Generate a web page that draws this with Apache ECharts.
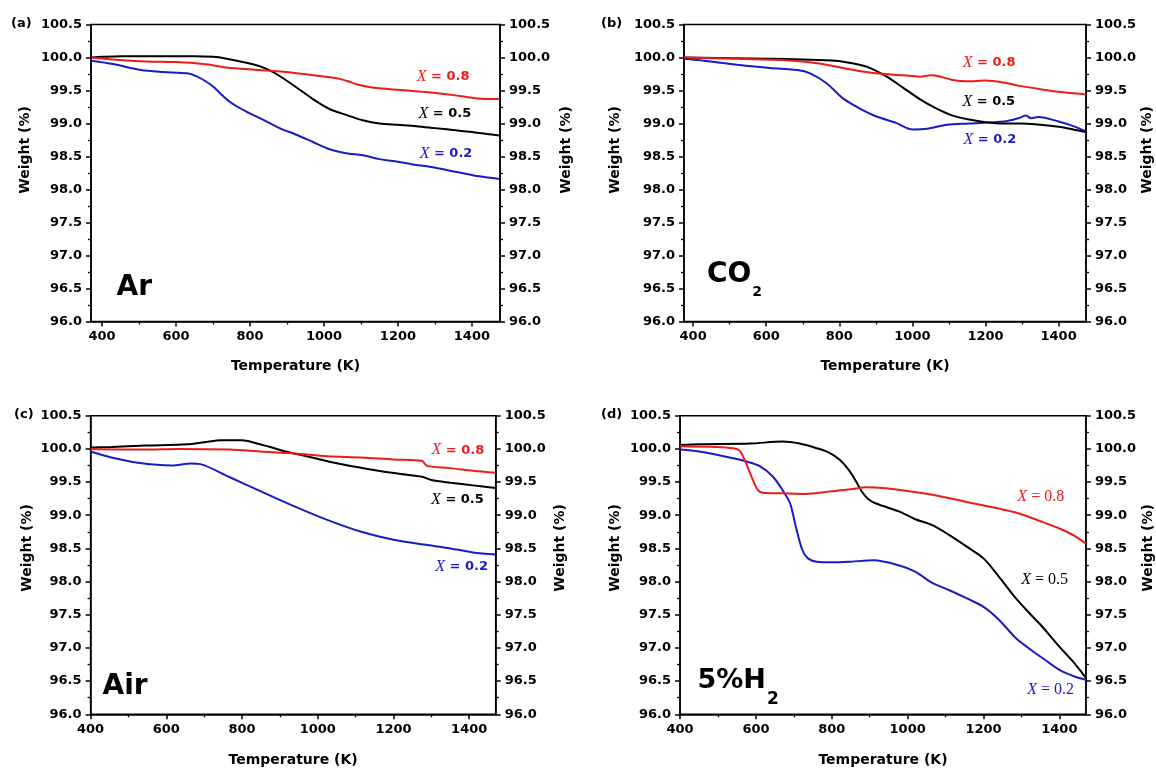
<!DOCTYPE html>
<html>
<head>
<meta charset="utf-8">
<title>Weight loss of x = 0.2, 0.5, 0.8 in Ar, CO2, air and 5% H2</title>
<script src="https://cdn.jsdelivr.net/npm/echarts@6/dist/echarts.min.js"></script>
<style>
  html, body { margin: 0; padding: 0; background: #fff; }
  #chart { width: 1156px; height: 771px; }
</style>
</head>
<body>
<div id="chart"></div>
<script>
// ---- data: [temperature (K), weight (%)] ----
const compositions = ['0.2', '0.5', '0.8'];
const xTickValues = [400, 600, 800, 1000, 1200, 1400];
const xMinorTickValues = [500, 700, 900, 1100, 1300];

// (a) Ar
const arX02 = [[372,99.95],[430,99.9],[505,99.81],[565,99.78],[630,99.76],[657,99.71],[680,99.64],[700,99.56],[745,99.33],[790,99.18],[835,99.06],[880,98.93],[925,98.83],[970,98.72],[1015,98.61],[1060,98.55],[1105,98.52],[1150,98.46],[1200,98.42],[1240,98.38],[1290,98.34],[1355,98.27],[1420,98.2],[1475,98.16]];
const arX05 = [[372,100.0],[400,100.01],[450,100.02],[550,100.02],[650,100.02],[700,100.01],[730,99.99],[790,99.92],[830,99.86],[855,99.8],[880,99.72],[925,99.55],[970,99.37],[1015,99.22],[1060,99.13],[1105,99.05],[1150,99.0],[1200,98.98],[1250,98.96],[1300,98.93],[1350,98.9],[1400,98.87],[1440,98.84],[1475,98.82]];
const arX08 = [[372,100.0],[430,99.97],[520,99.94],[600,99.93],[675,99.9],[735,99.85],[825,99.81],[915,99.77],[1005,99.71],[1040,99.68],[1065,99.64],[1090,99.59],[1125,99.55],[1200,99.51],[1290,99.47],[1350,99.43],[1400,99.39],[1440,99.37],[1475,99.37]];
const arLabelAt = [[1330,98.54],[1327,99.15],[1322,99.71]];
const arGasAt = [487, 96.51];

// (b) CO2
const co2X02 = [[375,99.98],[430,99.95],[520,99.89],[610,99.84],[685,99.81],[720,99.76],[765,99.61],[810,99.38],[855,99.23],[900,99.11],[955,99.01],[1000,98.91],[1040,98.92],[1095,98.98],[1155,99.0],[1250,99.03],[1290,99.08],[1310,99.12],[1325,99.08],[1345,99.1],[1400,99.03],[1440,98.96],[1475,98.88]];
const co2X05 = [[375,100.0],[610,99.98],[700,99.97],[790,99.95],[855,99.89],[885,99.84],[930,99.71],[975,99.54],[1020,99.37],[1065,99.23],[1110,99.12],[1155,99.06],[1200,99.02],[1250,99.0],[1295,99.0],[1350,98.98],[1400,98.95],[1440,98.91],[1475,98.87]];
const co2X08 = [[375,100.0],[520,99.98],[655,99.96],[745,99.91],[840,99.81],[900,99.76],[975,99.73],[1020,99.71],[1050,99.73],[1070,99.72],[1110,99.66],[1150,99.64],[1200,99.65],[1250,99.62],[1295,99.57],[1350,99.52],[1400,99.48],[1475,99.44]];
const co2LabelAt = [[1212,98.76],[1209,99.33],[1210,99.92]];
const co2GasAt = [513, 96.71];

// (c) Air
const airX02 = [[400,99.96],[455,99.87],[525,99.79],[615,99.75],[665,99.78],[690,99.77],[765,99.58],[850,99.36],[940,99.13],[1025,98.93],[1115,98.75],[1200,98.63],[1290,98.55],[1350,98.5],[1410,98.44],[1470,98.41]];
const airX05 = [[400,100.02],[455,100.03],[545,100.05],[655,100.07],[700,100.1],[745,100.13],[800,100.13],[835,100.09],[880,100.02],[915,99.96],[985,99.87],[1070,99.76],[1160,99.67],[1220,99.62],[1275,99.58],[1300,99.53],[1350,99.49],[1410,99.45],[1470,99.41]];
const airX08 = [[400,100.0],[545,99.99],[630,100.0],[765,99.99],[850,99.96],[940,99.93],[1025,99.89],[1115,99.87],[1200,99.84],[1275,99.82],[1282,99.78],[1290,99.74],[1350,99.71],[1410,99.67],[1470,99.64]];
const airLabelAt = [[1380,98.23],[1369,99.24],[1370,99.98]];
const airGasAt = [491, 96.41];

// (d) 5% H2
const h2X02 = [[400,99.99],[450,99.96],[540,99.86],[575,99.81],[610,99.74],[645,99.58],[670,99.38],[690,99.18],[705,98.83],[722,98.48],[737,98.35],[760,98.3],[805,98.29],[850,98.3],[910,98.32],[980,98.24],[1020,98.15],[1065,97.98],[1110,97.87],[1155,97.75],[1200,97.62],[1240,97.43],[1285,97.15],[1330,96.95],[1360,96.83],[1400,96.67],[1440,96.57],[1470,96.52]];
const h2X05 = [[400,100.06],[450,100.07],[585,100.08],[670,100.11],[715,100.08],[760,100.01],[790,99.95],[820,99.84],[845,99.68],[865,99.5],[880,99.35],[895,99.25],[915,99.18],[980,99.05],[1020,98.94],[1065,98.85],[1110,98.7],[1155,98.53],[1200,98.35],[1240,98.08],[1285,97.75],[1330,97.47],[1355,97.32],[1400,97.02],[1435,96.8],[1470,96.55]];
const h2X08 = [[400,100.04],[495,100.03],[540,100.01],[556,99.98],[565,99.9],[574,99.78],[592,99.53],[605,99.38],[618,99.34],[670,99.33],[730,99.32],[800,99.36],[850,99.39],[890,99.42],[935,99.41],[980,99.38],[1065,99.31],[1155,99.2],[1240,99.1],[1285,99.04],[1355,98.9],[1400,98.8],[1440,98.69],[1470,98.57]];
const h2LabelAt = [[1377,96.37],[1361,98.03],[1351,99.28]];
const h2GasAt = [553, 96.5];

// ---- styling ----
const SANS = 'DejaVu Sans';
const SERIF = 'Liberation Serif';
const LINE_COLORS = ['#1a1ac8', '#000000', '#ee1a1a'];   // x = 0.2, 0.5, 0.8

const panels = [
  { tag: '(a)', tagPos: [11, 17], gas: ['Ar', ''], gasAt: arGasAt, gasSize: [28, 14],
    rect: { left: 91, top: 24.5, width: 409, height: 297 }, xMin: 370, xMax: 1476,
    lines: [arX02, arX05, arX08], labelAt: arLabelAt, serifLabels: false,
    gapL: 59, gapR: 59, lift: 23, gapX: 38 },
  { tag: '(b)', tagPos: [601, 17], gas: ['CO', '2'], gasAt: co2GasAt, gasSize: [28, 14],
    rect: { left: 684, top: 24.5, width: 402, height: 297 }, xMin: 375, xMax: 1475,
    lines: [co2X02, co2X05, co2X08], labelAt: co2LabelAt, serifLabels: false,
    gapL: 62, gapR: 54, lift: 23, gapX: 38 },
  { tag: '(c)', tagPos: [14, 408], gas: ['Air', ''], gasAt: airGasAt, gasSize: [28, 14],
    rect: { left: 90.6, top: 415.7, width: 405.1, height: 298.6 }, xMin: 400, xMax: 1470,
    lines: [airX02, airX05, airX08], labelAt: airLabelAt, serifLabels: false,
    gapL: 56, gapR: 58, lift: 17, gapX: 39 },
  { tag: '(d)', tagPos: [601, 408], gas: ['5%H', '2'], gasAt: h2GasAt, gasSize: [27, 17],
    rect: { left: 680.1, top: 415.7, width: 405.8, height: 298.6 }, xMin: 400, xMax: 1470,
    lines: [h2X02, h2X05, h2X08], labelAt: h2LabelAt, serifLabels: true,
    gapL: 58, gapR: 55, lift: 17, gapX: 39 }
];

const axisLineStyle = { color: '#000', width: 1.5 };
const tickLabel = { fontFamily: SANS, fontWeight: 'bold', fontSize: 13, color: '#000' };
const nameStyle = { fontFamily: SANS, fontWeight: 'bold', fontSize: 14, color: '#000' };
// invisible anchor for text placed at a data position (full opacity so the text stays solid)
const anchorStyle = { color: '#000', opacity: 1 };

const grid = [], xAxis = [], yAxis = [], series = [], title = [];

panels.forEach((p, i) => {
  grid.push(Object.assign({ show: true, borderColor: '#000', borderWidth: 1.5,
    backgroundColor: 'transparent', containLabel: false }, p.rect));

  title.push({ text: p.tag, left: p.tagPos[0], top: p.tagPos[1], padding: 0,
    textStyle: { fontFamily: SANS, fontWeight: 'bold', fontSize: 13, color: '#000' } });

  // bottom axis: labelled ticks every 200 K
  xAxis.push({
    gridIndex: i, type: 'value', position: 'bottom', min: p.xMin, max: p.xMax,
    axisLine: { show: true, onZero: false, lineStyle: axisLineStyle },
    axisTick: { show: true, length: 5, customValues: xTickValues, lineStyle: axisLineStyle },
    axisLabel: Object.assign({ customValues: xTickValues, margin: 9, formatter: v => String(v) }, tickLabel),
    splitLine: { show: false },
    name: 'Temperature (K)', nameLocation: 'middle', nameGap: p.gapX, nameTextStyle: nameStyle
  });
  // bottom axis: short unlabelled ticks in between
  xAxis.push({
    gridIndex: i, type: 'value', position: 'bottom', min: p.xMin, max: p.xMax,
    axisLine: { show: false, onZero: false },
    axisTick: { show: true, length: 3, customValues: xMinorTickValues, lineStyle: { color: '#000', width: 1.3 } },
    axisLabel: { show: false }, splitLine: { show: false }
  });

  ['left', 'right'].forEach(side => {
    yAxis.push({
      gridIndex: i, type: 'value', position: side, min: 96, max: 100.5, interval: 0.5,
      axisLine: { show: true, onZero: false, lineStyle: axisLineStyle },
      axisTick: { show: true, length: 5, lineStyle: axisLineStyle },
      minorTick: { show: true, splitNumber: 2, length: 3, lineStyle: { color: '#000', width: 1.3 } },
      axisLabel: Object.assign({ margin: 9, formatter: v => v.toFixed(1) }, tickLabel),
      splitLine: { show: false }, minorSplitLine: { show: false },
      name: 'Weight (%)', nameLocation: 'middle', nameRotate: 90,
      nameGap: side === 'left' ? p.gapL : p.gapR,
      nameTextStyle: Object.assign({ padding: [0, 0, 0, 2 * p.lift] }, nameStyle)
    });
  });

  p.lines.forEach((pts, k) => {
    series.push({
      type: 'line', name: 'x = ' + compositions[k], xAxisIndex: 2 * i, yAxisIndex: 2 * i,
      data: pts, showSymbol: false, smooth: 0.3, silent: true,
      lineStyle: { color: LINE_COLORS[k], width: 2 }, itemStyle: { color: LINE_COLORS[k] }
    });
  });

  // composition labels beside the curves
  const labelRich = {};
  compositions.forEach((c, k) => {
    labelRich['x' + k] = { fontFamily: SERIF, fontStyle: 'italic', fontSize: 16, color: LINE_COLORS[k],
      textBorderWidth: 0 };
    labelRich['v' + k] = p.serifLabels
      ? { fontFamily: SERIF, fontSize: 16, color: LINE_COLORS[k], textBorderWidth: 0 }
      : { fontFamily: SANS, fontWeight: 'bold', fontSize: 13, color: LINE_COLORS[k], textBorderWidth: 0 };
  });
  series.push({
    type: 'scatter', xAxisIndex: 2 * i, yAxisIndex: 2 * i, silent: true,
    symbolSize: 0, itemStyle: anchorStyle,
    data: p.labelAt.map((pt, k) => ({ value: pt, name: compositions[k] })),
    label: {
      show: true, position: 'inside', textBorderWidth: 0,
      formatter: prm => '{x' + prm.dataIndex + '|X}{v' + prm.dataIndex + '| = ' + prm.name + '}',
      rich: labelRich
    }
  });

  // atmosphere label
  series.push({
    type: 'scatter', xAxisIndex: 2 * i, yAxisIndex: 2 * i, silent: true,
    symbolSize: 0, itemStyle: anchorStyle,
    data: [{ value: p.gasAt }],
    label: {
      show: true, position: 'inside', textBorderWidth: 0,
      formatter: () => '{m|' + p.gas[0] + '}' + (p.gas[1] ? '{s|' + p.gas[1] + '}' : ''),
      rich: {
        m: { fontFamily: SANS, fontWeight: 'bold', fontSize: p.gasSize[0], lineHeight: p.gasSize[0],
             color: '#000', textBorderWidth: 0 },
        s: { fontFamily: SANS, fontWeight: 'bold', fontSize: p.gasSize[1], lineHeight: p.gasSize[1],
             padding: [36, 0, 0, 1], color: '#000', textBorderWidth: 0 }
      }
    }
  });
});

const chart = echarts.init(document.getElementById('chart'), null, { renderer: 'canvas' });
chart.setOption({
  backgroundColor: '#fff',
  animation: false,
  title, grid, xAxis, yAxis, series
});
</script>
</body>
</html>
